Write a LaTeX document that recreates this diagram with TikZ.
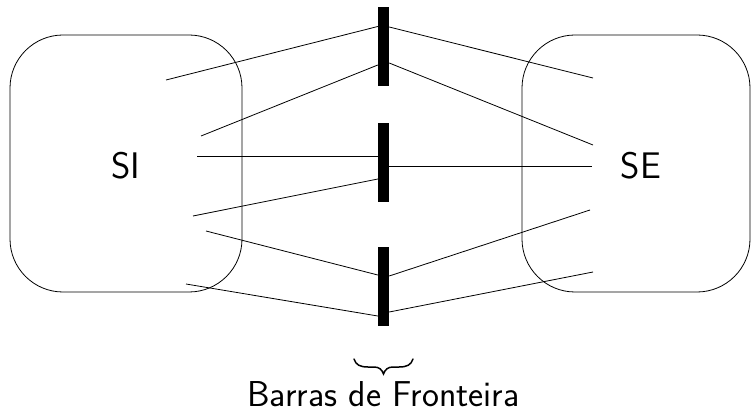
\documentclass[tikz,border=0pt]{standalone}
\usepackage{fontspec}
\usetikzlibrary{calc}
\begin{document}
\begin{tikzpicture}[x=1pt,y=-1pt,
  sysbox/.style={draw, line width=0.8pt, rounded corners=53pt},
  barbox/.style={fill=black, draw=none, minimum width=11pt, minimum height=79pt, inner sep=0pt},
  link/.style={line width=0.8pt},
  bracestyle/.style={line width=1.5pt, line cap=round},
  lbl/.style={font=\fontsize{37}{40}\selectfont\sffamily, inner sep=0pt}]
\useasboundingbox (0,0) rectangle (751,411);
% system boxes
\draw[sysbox] (10,35) rectangle (242,292);
\draw[sysbox] (522,35) rectangle (750,292);
\node[lbl] (si) at (126,166) {SI};
\node[lbl] (se) at (641,166) {SE};
% bars
\node[barbox] (b1) at (383.5,46.5) {};
\node[barbox] (b2) at (383.5,162.5) {};
\node[barbox] (b3) at (383.5,286.5) {};
% free ends inside SI
\coordinate (l1) at (166,80);
\coordinate (l2) at (201,136);
\coordinate (l3) at (197,156);
\coordinate (l4) at (193,216);
\coordinate (l5) at (206,231);
\coordinate (l6) at (186,284);
% free ends inside SE
\coordinate (r1) at (593,78);
\coordinate (r2) at (593,145);
\coordinate (r3) at (592,166);
\coordinate (r4) at (590,210);
\coordinate (r5) at (593,272);
% connectors to SI
\draw[link] (l1) -- ($(b1.west)+(0,-20)$);
\draw[link] (l2) -- ($(b1.west)+(0,18.5)$);
\draw[link] (l3) -- ($(b2.west)+(0,-6.5)$);
\draw[link] (l4) -- ($(b2.west)+(0,16.5)$);
\draw[link] (l5) -- ($(b3.west)+(0,-11.5)$);
\draw[link] (l6) -- ($(b3.west)+(0,29.5)$);
% connectors to SE
\draw[link] ($(b1.east)+(0,-19.5)$) -- (r1);
\draw[link] ($(b1.east)+(0,16.5)$) -- (r2);
\draw[link] ($(b2.east)+(0,3.5)$) -- (r3);
\draw[link] ($(b3.east)+(0,-10.5)$) -- (r4);
\draw[link] ($(b3.east)+(0,25.5)$) -- (r5);
% brace and label
\coordinate (bl) at (354,359);
\coordinate (br) at (413,359);
\coordinate (btip) at (383.5,374);
\draw[bracestyle] (bl) .. controls (356,365) and (360,367) .. (368,367)
  -- (374,367) .. controls (379,367) and (382,369.5) .. (btip)
  .. controls (385,369.5) and (388,367) .. (393,367)
  -- (399,367) .. controls (407,367) and (411,365) .. (br);
\node[font=\fontsize{36}{40}\selectfont\sffamily, anchor=base, inner sep=0pt] (lab) at (383.5,406) {Barras de Fronteira};
\end{tikzpicture}
\end{document}
